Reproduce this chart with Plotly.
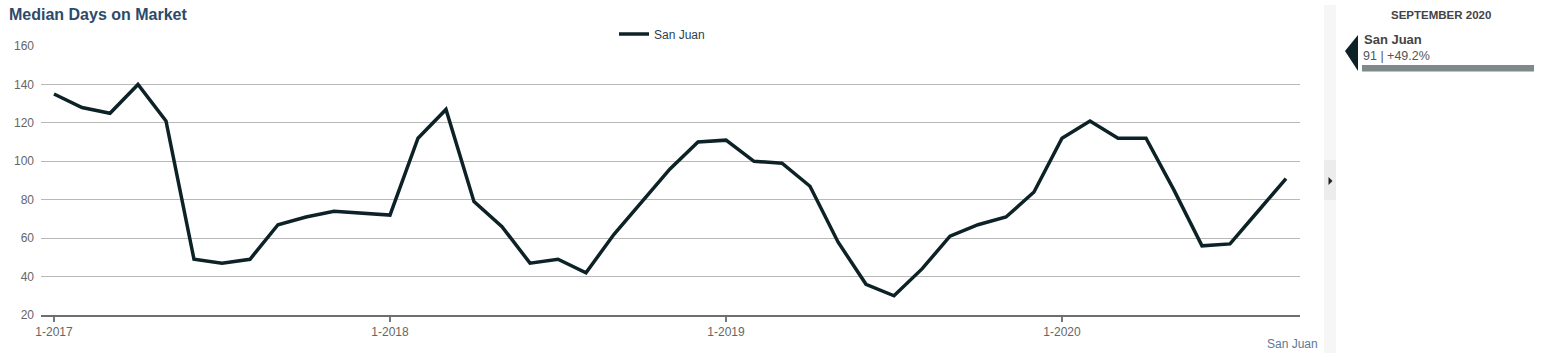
import plotly.graph_objects as go

months = [
    "1-2017", "2-2017", "3-2017", "4-2017", "5-2017", "6-2017", "7-2017", "8-2017", "9-2017", "10-2017", "11-2017", "12-2017",
    "1-2018", "2-2018", "3-2018", "4-2018", "5-2018", "6-2018", "7-2018", "8-2018", "9-2018", "10-2018", "11-2018", "12-2018",
    "1-2019", "2-2019", "3-2019", "4-2019", "5-2019", "6-2019", "7-2019", "8-2019", "9-2019", "10-2019", "11-2019", "12-2019",
    "1-2020", "2-2020", "3-2020", "4-2020", "5-2020", "6-2020", "7-2020", "8-2020", "9-2020",
]
san_juan = [
    135, 128, 125, 140, 121, 49, 47, 49, 67, 71, 74, 73,
    72, 112, 127, 79, 66, 47, 49, 42, 62, 79, 96, 110,
    111, 100, 99, 87, 58, 36, 30, 44, 61, 67, 71, 84,
    112, 121, 112, 112, 85, 56, 57, 74, 91,
]
x_ticks = ["1-2017", "1-2018", "1-2019", "1-2020"]
y_ticks = [20, 40, 60, 80, 100, 120, 140, 160]
series_name = "San Juan"
panel_title = "SEPTEMBER 2020"

W, H = 1544, 353
L, R, T, B = 41, 1300, 46, 315

def px(x):
    return (x - L) / (R - L)

def py(y):
    return (B - y) / (B - T)

LINE = "#0d2226"
FONT = "Liberation Sans, Arial, sans-serif"

fig = go.Figure()
fig.add_trace(go.Scatter(
    x=months, y=san_juan, mode="lines", name=series_name,
    line=dict(color=LINE, width=3.5),
))

fig.update_layout(
    width=W, height=H,
    margin=dict(l=L, r=W - R, t=T, b=H - B),
    paper_bgcolor="white", plot_bgcolor="white",
    font=dict(family=FONT, size=12, color="#666"),
    showlegend=True,
    legend=dict(orientation="h", x=px(662), xanchor="center", y=py(34), yanchor="middle",
                font=dict(size=12, color="#2b3f52"), itemwidth=30, tracegroupgap=0),
    xaxis=dict(
        type="category", range=[-0.464, 44.5],
        tickmode="array", tickvals=x_ticks, ticktext=x_ticks,
        ticks="outside", ticklen=5, tickwidth=2, tickcolor="#777",
        showgrid=False, showline=True, linecolor="#6e6e6e", linewidth=2,
        tickfont=dict(size=12, color="#666"), fixedrange=True, ticklabelstandoff=0,
    ),
    yaxis=dict(
        range=[20, 160], tickmode="array", tickvals=y_ticks,
        showgrid=True, gridcolor="#b8b8b8", gridwidth=1,
        zeroline=False, showline=False, ticks="", ticklabelstandoff=6,
        tickfont=dict(size=12, color="#666"), fixedrange=True,
    ),
)

# Title
fig.add_annotation(text="<b>Median Days on Market</b>", xref="paper", yref="paper",
                   x=px(7), y=py(14), xanchor="left", yanchor="middle", showarrow=False,
                   font=dict(size=16, color="#2c4a6b", family=FONT))
# Bottom right label
fig.add_annotation(text=series_name, xref="paper", yref="paper",
                   x=px(1320), y=py(344), xanchor="right", yanchor="middle", showarrow=False,
                   font=dict(size=12, color="#5b7a99", family=FONT))

# Side strip
fig.add_shape(type="rect", xref="paper", yref="paper", x0=px(1324), x1=px(1336), y0=py(5), y1=py(353),
              fillcolor="#f6f6f6", line=dict(width=0), layer="below")
fig.add_shape(type="rect", xref="paper", yref="paper", x0=px(1324), x1=px(1336), y0=py(160), y1=py(200),
              fillcolor="#ececec", line=dict(width=0), layer="below")
fig.add_shape(type="path", xref="paper", yref="paper",
              path=f"M {px(1328.5)} {py(177)} L {px(1332.5)} {py(181)} L {px(1328.5)} {py(185)} Z",
              fillcolor="#222", line=dict(width=0))

# Right panel
last = san_juan[-1]
prev_year = san_juan[-13]
pct = (last - prev_year) / prev_year * 100
fig.add_annotation(text=f"<b>{panel_title}</b>", xref="paper", yref="paper",
                   x=px(1441), y=py(15), xanchor="center", yanchor="middle", showarrow=False,
                   font=dict(size=11.5, color="#444", family=FONT))
fig.add_shape(type="path", xref="paper", yref="paper",
              path=f"M {px(1358)} {py(35)} L {px(1345)} {py(51)} L {px(1358)} {py(71)} Z",
              fillcolor=LINE, line=dict(width=0))
fig.add_annotation(text=f"<b>{series_name}</b>", xref="paper", yref="paper",
                   x=px(1362), y=py(40), xanchor="left", yanchor="middle", showarrow=False,
                   font=dict(size=13, color="#444", family=FONT))
fig.add_annotation(text=f"{last} | {pct:+.1f}%", xref="paper", yref="paper",
                   x=px(1361), y=py(56), xanchor="left", yanchor="middle", showarrow=False,
                   font=dict(size=12.5, color="#555", family=FONT))
fig.add_shape(type="rect", xref="paper", yref="paper", x0=px(1362), x1=px(1534), y0=py(65), y1=py(71.5),
              fillcolor="#7f898b", line=dict(width=0))

fig.write_html("out.html", config={"displayModeBar": False})
